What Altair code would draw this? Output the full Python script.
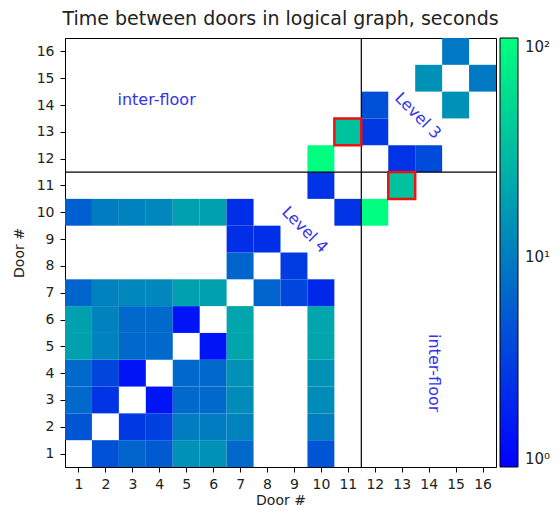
import altair as alt
import pandas as pd

# heatmap cells: row (y door), column (x door), seconds
rows = [1,1,1,1,1,1,1,
        2,2,2,2,2,2,2,
        3,3,3,3,3,3,3,
        4,4,4,4,4,4,4,
        5,5,5,5,5,5,5,
        6,6,6,6,6,6,6,
        7,7,7,7,7,7,7,7,7,
        8,8,
        9,9,
        10,10,10,10,10,10,10,10,10,
        11,11,
        12,12,12,
        13,13,
        14,14,
        15,15,
        16]
cols = [2,3,4,5,6,7,10,
        1,3,4,5,6,7,10,
        1,2,4,5,6,7,10,
        1,2,3,5,6,7,10,
        1,2,3,4,6,7,10,
        1,2,3,4,5,7,10,
        1,2,3,4,5,6,8,9,10,
        7,9,
        7,8,
        1,2,3,4,5,6,7,11,12,
        10,13,
        10,13,14,
        11,12,
        12,15,
        14,16,
        15]
vals = [4.4,6.3,5.3,14.5,14.5,6.9,4.8,
        4.8,2.8,3.3,10.0,10.0,11.0,10.0,
        6.9,2.5,1.45,6.9,6.9,13.2,13.2,
        6.9,3.6,1.45,6.9,6.9,14.5,14.5,
        19.1,11.0,6.9,6.9,1.45,20.9,20.9,
        19.1,11.0,6.9,6.9,1.45,20.9,20.9,
        6.3,11.0,12.0,12.0,19.1,19.1,6.3,3.6,2.1,
        6.3,3.0,
        2.4,2.4,
        5.8,10.0,11.0,12.0,19.1,19.1,2.3,2.5,110.0,
        2.5,36.0,
        110.0,2.5,4.0,
        36.0,2.8,
        4.4,14.5,
        14.5,9.1,
        9.1]

ticks = list(range(1, 17))
split_at = [11.5]
highlight_x = [11, 13]
highlight_y = [13, 11]

labels_text = ["inter-floor", "inter-floor", "Level 3", "Level 4"]
labels_x = [3.9, 14.2, 13.6, 9.4]
labels_y = [14.2, 4.0, 13.6, 9.35]
labels_angle = [0, 90, 45, 45]

df = pd.DataFrame({"row": rows, "col": cols, "value": vals})
df["x0"] = df["col"] - 0.5
df["x1"] = df["col"] + 0.5
df["y0"] = df["row"] - 0.5
df["y1"] = df["row"] + 0.5

hl = pd.DataFrame({"col": highlight_x, "row": highlight_y})
hl["x0"] = hl["col"] - 0.5
hl["x1"] = hl["col"] + 0.5
hl["y0"] = hl["row"] - 0.5
hl["y1"] = hl["row"] + 0.5

lab = pd.DataFrame({"t": labels_text, "x": labels_x, "y": labels_y, "a": labels_angle})
split = pd.DataFrame({"v": split_at})

xs = alt.Scale(domain=[0.5, 16.5], nice=False, zero=False)
ys = alt.Scale(domain=[0.5, 16.5], nice=False, zero=False)

font = "DejaVu Sans"

common = dict(values=ticks, tickCount=16, title="Door #", grid=False, tickSize=5,
              labelFontSize=14, titleFontSize=14, labelFont=font, titleFont=font,
              labelColor="#222", titleColor="#222", domainColor="black", tickColor="black",
              titleFontWeight="normal", labelFlush=False, labelOverlap=False)
xaxis = alt.Axis(labelPadding=5, titlePadding=2, **common)
yaxis = alt.Axis(labelPadding=6, titlePadding=10, **common)

heat = alt.Chart(df).mark_rect(stroke=None).encode(
    x=alt.X("x0:Q", scale=xs, axis=xaxis),
    x2="x1:Q",
    y=alt.Y("y0:Q", scale=ys, axis=yaxis),
    y2="y1:Q",
    color=alt.Color(
        "value:Q",
        scale=alt.Scale(type="log", domain=[1, 110], range=["#0000ff", "#00ff80"],
                        interpolate="rgb"),
        legend=alt.Legend(
            title=None, orient="none", legendX=435, legendY=0, padding=0,
            gradientLength=429, gradientThickness=18, gradientStrokeColor="black",
            gradientStrokeWidth=1, values=[1, 10, 100], tickCount=3,
            labelExpr="datum.value == 1 ? '10⁰' : (datum.value == 10 ? '10¹' : '10²')",
            labelFontSize=15, labelFont=font, labelColor="#222", labelOffset=7,
            direction="vertical",
        ),
    ),
)

box = alt.Chart(hl).mark_rect(fill=None, stroke="#ee1111", strokeWidth=2.5).encode(
    x=alt.X("x0:Q", scale=xs, axis=xaxis), x2="x1:Q",
    y=alt.Y("y0:Q", scale=ys, axis=yaxis), y2="y1:Q",
)

vrule = alt.Chart(split).mark_rule(color="black", strokeWidth=1.2).encode(
    x=alt.X("v:Q", scale=xs, axis=xaxis)
)
hrule = alt.Chart(split).mark_rule(color="black", strokeWidth=1.2).encode(
    y=alt.Y("v:Q", scale=ys, axis=yaxis)
)

text = alt.Chart(lab).mark_text(fontSize=16, font=font, color="#3333ee", align="center",
                                baseline="middle").encode(
    x=alt.X("x:Q", scale=xs, axis=xaxis), y=alt.Y("y:Q", scale=ys, axis=yaxis), text="t:N",
    angle=alt.Angle("a:Q", scale=None)
)

chart = alt.layer(heat, vrule, hrule, box, text).properties(
    width=431, height=429,
    title=alt.TitleParams("Time between doors in logical graph, seconds", fontSize=19,
                          font=font, fontWeight="normal", color="#222", offset=8),
    autosize="none",
    padding={"left": 57, "top": 30, "right": 56, "bottom": 43},
).configure_view(stroke="black", strokeWidth=1)

chart.save("out.html", embed_options={"renderer": "svg", "actions": False})
